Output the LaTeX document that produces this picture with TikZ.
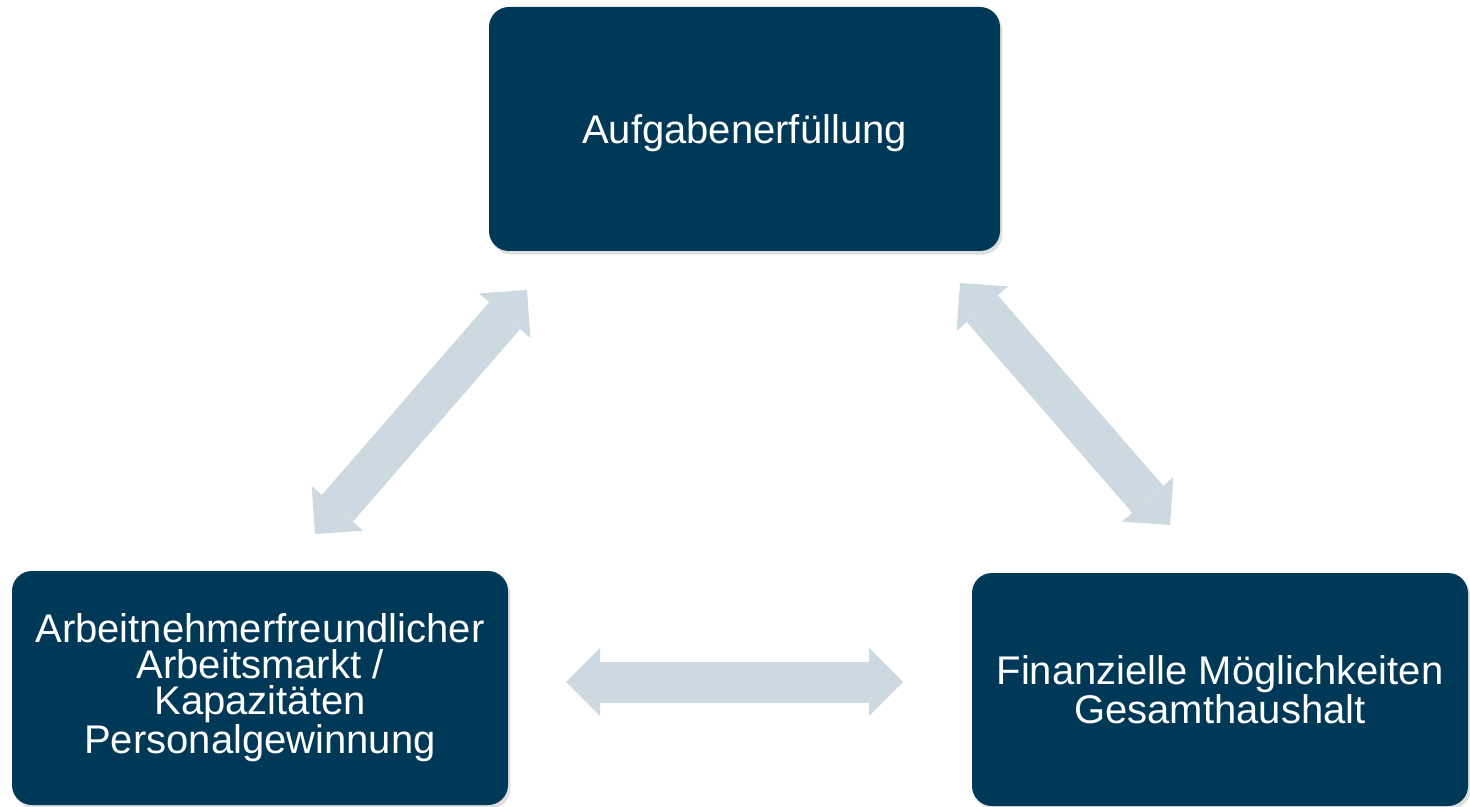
\documentclass[tikz,border=0pt]{standalone}
\usepackage{fontspec}
\setmainfont{Liberation Sans}
\usetikzlibrary{arrows.meta,shadows}
\definecolor{boxblue}{RGB}{0,57,87}
\definecolor{arrowgray}{RGB}{205,217,224}
\begin{document}
\begin{tikzpicture}[x=0.5pt,y=-0.5pt,
  box/.style={rectangle, rounded corners=10pt, fill=boxblue, text=white,
    align=center, font=\fontsize{20}{18}\selectfont, inner sep=0pt,
    drop shadow={shadow xshift=1.2pt, shadow yshift=-1.8pt, opacity=0.25}},
  bigarrow/.style={draw=arrowgray, line width=20.5pt,
    {Triangle[length=17pt,width=34pt,line width=0pt]}-{Triangle[length=17pt,width=34pt,line width=0pt]}}]
\useasboundingbox (0,0) rectangle (1470,807);

\node[box, minimum width=255.5pt, minimum height=122pt, text depth=0pt] (auf) at (744.5,129) {Aufgabenerfüllung};
\node[box, minimum width=248pt, minimum height=117pt] (arb) at (260,688)
  {Arbeitnehmerfreundlicher\\Arbeitsmarkt /\\Kapazitäten\\Personalgewinnung};
\node[box, minimum width=248pt, minimum height=116.5pt] (fin) at (1220,689.5)
  {Finanzielle Möglichkeiten\\Gesamthaushalt};

\coordinate (a1s) at (315,534);
\coordinate (a1e) at (527,290);
\coordinate (a2s) at (960,283);
\coordinate (a2e) at (1170,525);
\coordinate (a3s) at (566,682);
\coordinate (a3e) at (903,682);

\draw[bigarrow] (a1s) -- (a1e);
\draw[bigarrow] (a2s) -- (a2e);
\draw[bigarrow] (a3s) -- (a3e);
\end{tikzpicture}
\end{document}
